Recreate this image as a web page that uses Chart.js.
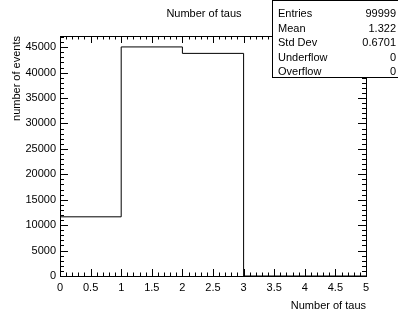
<!DOCTYPE html>
<html>
<head>
<meta charset="utf-8">
<script src="https://cdn.jsdelivr.net/npm/chart.js@4"></script>
<style>
  html, body { margin: 0; padding: 0; background: #fff; }
  #wrap { width: 398px; height: 312px; }
</style>
</head>
<body>
<div id="wrap"><canvas id="hist" width="398" height="312"></canvas></div>
<script>
// histogram: bin edges and counts (Number of taus)
const binEdges = [0, 1, 2, 3, 4, 5];
const binCounts = [11640, 45050, 43780, 0, 0];
const xTicks = [0, 0.5, 1, 1.5, 2, 2.5, 3, 3.5, 4, 4.5, 5];
const yTicks = [0, 5000, 10000, 15000, 20000, 25000, 30000, 35000, 40000, 45000];
const statNames = ["Entries", "Mean", "Std Dev", "Underflow", "Overflow"];
const statValues = ["99999", "1.322", "0.6701", "0", "0"];

const font = "Liberation Sans, Arial, Helvetica, sans-serif";

// step points: each bin value starts at its left edge
let points = binCounts.map((c, i) => ({ x: binEdges[i], y: c }));
points.push({ x: binEdges[binEdges.length - 1], y: binCounts[binCounts.length - 1] });

const rootFrame = {
  id: "rootFrame",
  afterDraw(chart) {
    const c = chart.ctx;
    const a = chart.chartArea;
    const xs = chart.scales.x, ys = chart.scales.y;
    c.save();
    c.strokeStyle = "#000";
    c.lineWidth = 1;
    c.strokeRect(Math.round(a.left) + 0.5, Math.round(a.top) + 0.5,
      Math.round(a.right - a.left), Math.round(a.bottom - a.top));

    c.beginPath();
    // x ticks, bottom and top
    for (let v = 0; v <= 50; v++) {
      const px = Math.round(xs.getPixelForValue(v / 10)) + 0.5;
      const len = v % 5 === 0 ? 7 : 3.5;
      c.moveTo(px, a.bottom); c.lineTo(px, a.bottom - len);
      c.moveTo(px, a.top); c.lineTo(px, a.top + len);
    }
    // y ticks, left and right
    for (let v = 0; v <= 47; v++) {
      const py = Math.round(ys.getPixelForValue(v * 1000)) + 0.5;
      const len = v % 5 === 0 ? 8 : 4;
      c.moveTo(a.left, py); c.lineTo(a.left + len, py);
      c.moveTo(a.right, py); c.lineTo(a.right - len, py);
    }
    c.stroke();

    // title
    c.fillStyle = "#000";
    c.font = "11px " + font;
    c.textAlign = "center";
    c.textBaseline = "middle";
    c.fillText("Number of taus", 204, 14);

    // axis titles
    c.textAlign = "right";
    c.fillText("Number of taus", a.right, 306);
    c.save();
    c.translate(17, a.top);
    c.rotate(-Math.PI / 2);
    c.textAlign = "right";
    c.fillText("number of events", 0, 0);
    c.restore();

    // stats box
    c.fillStyle = "#fff";
    c.fillRect(272.5, 0.5, 140, 77);
    c.strokeRect(272.5, 0.5, 140, 77);
    c.fillStyle = "#000";
    statNames.forEach((n, i) => {
      const y = 14 + i * 14.6;
      c.textAlign = "left";
      c.fillText(n, 278, y);
      c.textAlign = "right";
      c.fillText(statValues[i], 396, y);
    });
    c.restore();
  }
};

new Chart(document.getElementById("hist"), {
  type: "line",
  data: {
    datasets: [{
      data: points,
      stepped: "before",
      borderColor: "#000",
      borderWidth: 1,
      pointRadius: 0,
      fill: false
    }]
  },
  options: {
    responsive: false,
    animation: false,
    layout: { padding: { left: 0, top: 36, right: 32, bottom: 0 } },
    plugins: { legend: { display: false }, tooltip: { enabled: false } },
    scales: {
      x: {
        type: "linear",
        min: 0,
        max: 5,
        grid: { display: false, drawTicks: false },
        border: { display: false },
        afterBuildTicks: s => { s.ticks = xTicks.map(v => ({ value: v })); },
        afterFit: s => { s.height = 36; },
        ticks: {
          padding: 5,
          color: "#000",
          font: { family: font, size: 11 },
          maxRotation: 0,
          autoSkip: false,
          callback: v => String(v)
        }
      },
      y: {
        min: 0,
        max: 47200,
        grid: { display: false, drawTicks: false },
        border: { display: false },
        afterBuildTicks: s => { s.ticks = yTicks.map(v => ({ value: v })); },
        afterFit: s => { s.width = 60; },
        ticks: {
          padding: 4,
          color: "#000",
          font: { family: font, size: 11 },
          autoSkip: false,
          callback: v => String(v)
        }
      }
    }
  },
  plugins: [rootFrame]
});
</script>
</body>
</html>
